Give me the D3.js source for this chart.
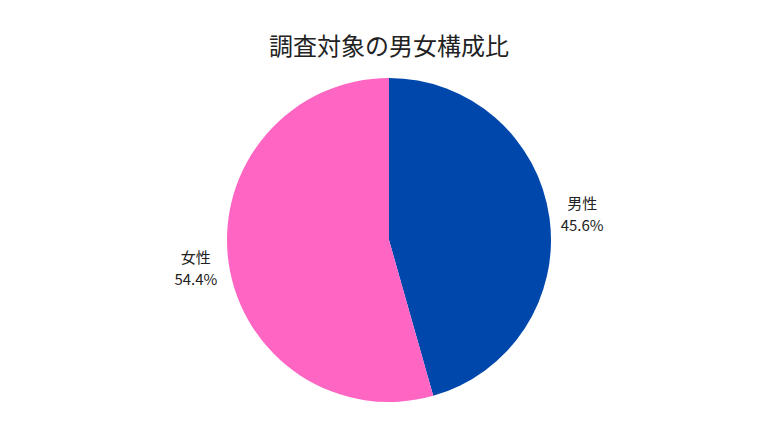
<!DOCTYPE html>
<html>
<head>
<meta charset="utf-8">
<script src="https://cdn.jsdelivr.net/npm/d3@7"></script>
<style>
  body { margin: 0; background: #fff; }
  text { font-family: "Noto Sans CJK JP", "Noto Sans", sans-serif; fill: #222; }
</style>
</head>
<body>
<div id="chart"></div>
<script>
// 調査対象の男女構成比
const labels = ['男性', '女性'];
const values = [45.6, 54.4];
const colors = ['#0047ab', '#ff66c4'];
const title = '調査対象の男女構成比';

const width = 780, height = 438;
const cx = 389, cy = 240;
const radius = 162;
const labelRadius = 195;

const svg = d3.select('#chart').append('svg')
    .attr('width', width)
    .attr('height', height);

svg.append('text')
    .attr('x', cx)
    .attr('y', 55)
    .attr('text-anchor', 'middle')
    .style('font-size', '24px')
    .text(title);

const pie = d3.pie().sort(null).value(d => d.value);
const data = labels.map((l, i) => ({label: l, value: values[i], color: colors[i]}));
const arcs = pie(data);

const arc = d3.arc().innerRadius(0).outerRadius(radius);
const labelArc = d3.arc().innerRadius(labelRadius).outerRadius(labelRadius);

const g = svg.append('g')
    .attr('transform', `translate(${cx},${cy})`);

g.selectAll('path')
    .data(arcs)
    .enter().append('path')
    .attr('d', arc)
    .attr('fill', d => d.data.color);

const lbl = g.selectAll('.lbl')
    .data(arcs)
    .enter().append('text')
    .attr('class', 'lbl')
    .attr('transform', d => `translate(${labelArc.centroid(d)})`)
    .attr('text-anchor', 'middle')
    .style('font-size', '15px');

lbl.append('tspan')
    .attr('x', 0)
    .attr('y', -4)
    .text(d => d.data.label);

lbl.append('tspan')
    .attr('x', 0)
    .attr('y', 18)
    .text(d => d.data.value.toFixed(1) + '%');
</script>
</body>
</html>
